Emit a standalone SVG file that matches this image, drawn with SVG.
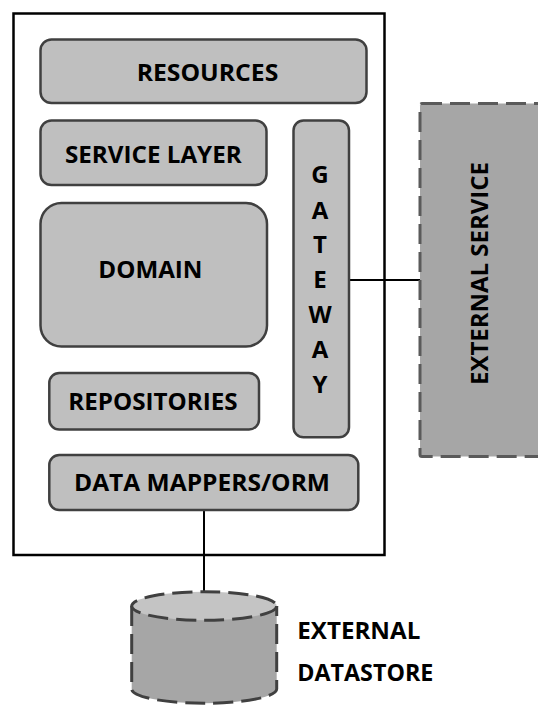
<svg xmlns="http://www.w3.org/2000/svg" width="538" height="706" viewBox="0 0 538 706">
  <style>
    .layer { fill: #bfbfbf; stroke: #404040; stroke-width: 2.5; }
    .ext { fill: #a6a6a6; stroke: #5a5a5a; stroke-width: 3; stroke-dasharray: 20 8; }
    .db { stroke: #404040; }
    .lbl { font-family: "Open Sans", "Liberation Sans", sans-serif; font-weight: bold; font-size: 24px; fill: #000; }
    .gw { text-anchor: middle; }
    .wire { stroke: #000; stroke-width: 2; fill: none; }
  </style>
  <rect width="538" height="706" fill="#ffffff"/>

  <!-- application boundary -->
  <g id="application">
    <rect x="13.5" y="13.5" width="371" height="541.5" fill="#ffffff" stroke="#000" stroke-width="2.5"/>
  </g>

  <g id="connectors">
    <line class="wire" x1="349" y1="280" x2="420" y2="280"/>
    <line class="wire" x1="204" y1="510" x2="204" y2="592"/>
  </g>

  <g id="resources">
    <rect class="layer" x="40.5" y="39.5" width="326" height="63.5" rx="11"/>
    <text class="lbl" x="136.7" y="80.7" textLength="141.6" lengthAdjust="spacingAndGlyphs">RESOURCES</text>
  </g>

  <g id="service-layer">
    <rect class="layer" x="40.5" y="120.5" width="226" height="64.5" rx="11"/>
    <text class="lbl" x="65" y="162.7" textLength="176.7" lengthAdjust="spacingAndGlyphs">SERVICE LAYER</text>
  </g>

  <g id="domain">
    <rect class="layer" x="40.5" y="203" width="226.5" height="143.5" rx="21"/>
    <text class="lbl" x="98.3" y="278.3" textLength="104.2" lengthAdjust="spacingAndGlyphs">DOMAIN</text>
  </g>

  <g id="repositories">
    <rect class="layer" x="49.3" y="373" width="209.7" height="56.5" rx="10"/>
    <text class="lbl" x="68.3" y="410" textLength="169.2" lengthAdjust="spacingAndGlyphs">REPOSITORIES</text>
  </g>

  <g id="data-mappers">
    <rect class="layer" x="49.3" y="455" width="309" height="55" rx="10"/>
    <text class="lbl" x="74" y="490.7" textLength="256" lengthAdjust="spacingAndGlyphs">DATA MAPPERS/ORM</text>
  </g>

  <g id="gateway">
    <rect class="layer" x="293.5" y="120.5" width="55.5" height="316.8" rx="10"/>
    <text class="lbl gw" x="320" y="183.4">G</text>
    <text class="lbl gw" x="320" y="218.7">A</text>
    <text class="lbl gw" x="320" y="253.3">T</text>
    <text class="lbl gw" x="320" y="288.3">E</text>
    <text class="lbl gw" x="320" y="323.3">W</text>
    <text class="lbl gw" x="320" y="357.7">A</text>
    <text class="lbl gw" x="320" y="392.7">Y</text>
  </g>

  <g id="external-service">
    <rect class="ext" x="420" y="103.5" width="140" height="353" rx="2"/>
    <text class="lbl" transform="translate(488.3,385) rotate(-90)" x="0" y="0" textLength="223" lengthAdjust="spacingAndGlyphs">EXTERNAL SERVICE</text>
  </g>

  <g id="external-datastore">
    <path class="ext db" d="M131.7,606 V689 A72.5,14.3 0 0 0 276.7,689 V606"/>
    <ellipse class="ext db" cx="204.2" cy="606" rx="72.5" ry="14.3" style="fill:#c4c4c4"/>
    <text class="lbl" x="297.3" y="639.3" textLength="123" lengthAdjust="spacingAndGlyphs">EXTERNAL</text>
    <text class="lbl" x="297.3" y="680.5" textLength="136" lengthAdjust="spacingAndGlyphs">DATASTORE</text>
  </g>
</svg>
